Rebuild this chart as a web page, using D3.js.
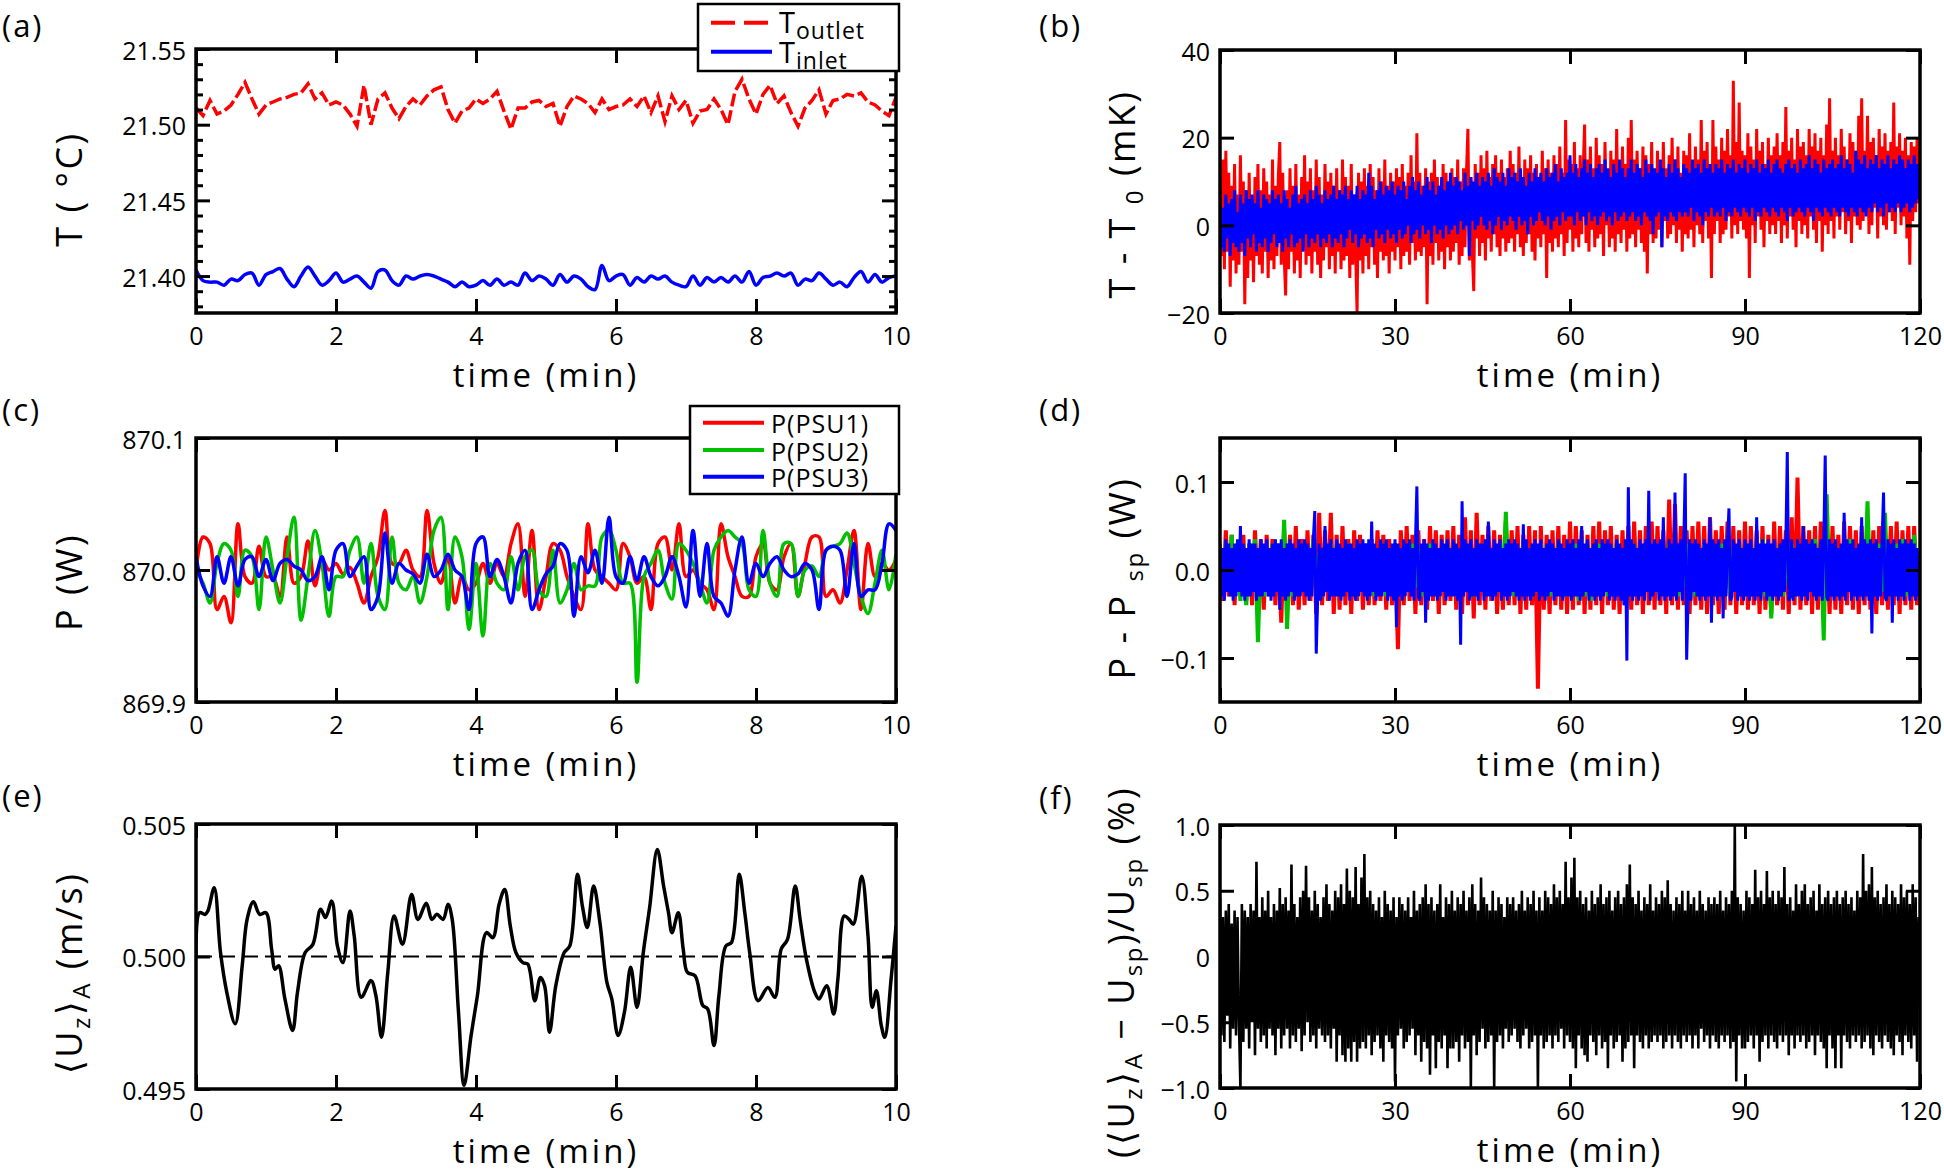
<!DOCTYPE html>
<html>
<head>
<meta charset="utf-8">
<script src="https://cdn.jsdelivr.net/npm/d3@7"></script>
<style>
body{margin:0;background:#fff}
svg text{font-family:"Open Sans","DejaVu Sans",sans-serif;fill:#000}
.tick text{font-size:25px}
.tick line{stroke:#000;stroke-width:3}
.plabel{font-size:31px;letter-spacing:2px}
.xtitle{font-size:33px;letter-spacing:3px}
.ytitle{letter-spacing:2.5px}
.legtext{letter-spacing:1px}
</style>
</head>
<body>
<svg id="fig" width="1944" height="1174"></svg>
<script>
// sample spacing (min)
var shortStep = 0.1, longStep = 0.5, denseStep = 0.25;

// (a) outlet / inlet temperature, degC, every 0.1 min
var tOutlet = [
21.511,21.506,21.516,21.507,21.509,21.513,21.520,21.528,21.517,21.507,
21.513,21.515,21.517,21.518,21.520,21.521,21.527,21.517,21.521,21.513,
21.515,21.513,21.507,21.499,21.526,21.500,21.517,21.521,21.511,21.504,
21.512,21.517,21.513,21.519,21.523,21.525,21.510,21.501,21.509,21.511,
21.517,21.514,21.517,21.522,21.509,21.497,21.511,21.511,21.515,21.516,
21.512,21.514,21.499,21.512,21.519,21.517,21.514,21.508,21.517,21.510,
21.512,21.513,21.517,21.512,21.519,21.508,21.519,21.502,21.519,21.510,
21.516,21.501,21.509,21.510,21.517,21.510,21.500,21.522,21.530,21.517,
21.507,21.520,21.526,21.514,21.519,21.508,21.499,21.511,21.516,21.523,
21.507,21.516,21.517,21.520,21.519,21.521,21.515,21.513,21.509,21.506,
21.518];
var tInlet = [
21.404,21.397,21.396,21.396,21.394,21.398,21.397,21.401,21.402,21.394,
21.401,21.403,21.405,21.398,21.393,21.400,21.406,21.400,21.394,21.397,
21.402,21.396,21.398,21.400,21.396,21.392,21.403,21.404,21.397,21.394,
21.400,21.398,21.400,21.401,21.400,21.398,21.396,21.393,21.396,21.393,
21.394,21.397,21.394,21.398,21.394,21.396,21.394,21.402,21.397,21.400,
21.398,21.394,21.401,21.396,21.400,21.398,21.393,21.391,21.407,21.397,
21.400,21.401,21.394,21.399,21.396,21.400,21.398,21.400,21.396,21.394,
21.393,21.400,21.394,21.399,21.396,21.399,21.396,21.400,21.396,21.403,
21.394,21.399,21.400,21.402,21.400,21.402,21.394,21.398,21.397,21.402,
21.398,21.394,21.396,21.393,21.399,21.403,21.396,21.401,21.396,21.399,
21.400];

// (b) T - T0, mK, every 0.25 min
var bOutlet = [
3,-7,15,-10,17,-6,12,-14,9,-8,14,-11,7,-9,16,-6,10,-18,8,-12,
12,-8,6,-13,11,-7,14,-9,8,-11,13,-6,10,-12,7,-8,15,-10,9,-7,
11,19,-9,12,-7,-16,8,-10,13,-6,9,-11,14,-8,7,-12,11,-5,16,-9,
10,-7,13,-11,8,-6,15,-9,11,-12,7,-8,14,-5,10,-10,12,-7,9,-11,
13,-6,8,-10,15,-8,11,-7,9,-12,14,-9,7,-6,-20,12,-8,10,-11,13,
-7,9,-10,14,-5,11,-9,8,-12,13,-6,10,-8,15,-7,9,-11,12,-6,10,
-8,13,-5,11,-10,14,-7,9,-6,12,-9,16,-4,10,-8,21,-6,12,-7,9,
-5,13,-18,10,-7,12,-9,15,-4,11,-8,9,-6,14,-10,12,-5,10,-8,13,
-6,11,-4,15,-9,10,-7,13,-5,12,22,-8,11,-6,-15,14,-3,12,-7,16,
-4,13,-8,17,-3,11,-6,14,-2,16,-5,12,-7,15,-3,11,-6,13,-4,17,
-3,14,-6,12,-2,18,-5,11,-7,15,-4,13,-2,16,-6,12,-8,14,-3,11,
-5,17,-2,13,-12,15,-4,12,-6,16,-3,14,-5,18,-2,12,-7,24,-4,15,
-1,14,-6,19,-3,13,-5,16,-2,12,23,-4,15,-6,18,-1,13,-5,20,-3,
16,-2,14,-7,19,0,12,-5,17,-3,15,-6,22,-2,13,-4,18,-1,14,-6,
20,-3,24,-2,15,-5,17,-1,13,-4,18,-6,16,-11,14,-2,19,-4,12,-3,
17,-1,14,-5,19,1,13,-3,16,-2,20,0,15,-4,18,-1,12,-6,17,-2,
16,-3,21,-1,14,-5,18,0,15,-2,24,-4,17,1,19,-3,13,-12,24,-2,
18,1,15,-4,20,-2,17,-1,22,2,16,-3,33,0,19,-2,28,1,17,-1,
16,-3,21,-12,18,0,15,-4,22,2,17,-1,19,-5,14,1,20,-2,16,0,
18,-2,21,1,16,-4,19,0,27,-3,17,2,20,-1,15,-5,22,1,18,-2,
19,0,16,-3,22,2,18,-1,21,-4,17,1,20,-6,16,0,23,-2,29,1,
17,-3,20,2,16,-1,22,3,18,-2,15,1,21,-4,19,2,17,0,25,-1,
29,1,17,3,25,-2,19,0,20,4,16,-3,22,2,18,0,21,-1,17,3,
19,1,28,-2,18,4,21,0,17,2,20,-3,16,-9,19,1,18,3,20,5,
12];
var bInlet = [
6,-5,4,-6,7,-3,5,-7,6,-4,8,-5,3,-6,7,-4,5,-7,8,-3,
6,-5,7,-2,5,-6,8,-4,4,-5,7,-3,6,-6,5,-4,8,-2,6,-5,
7,-4,5,-6,8,-3,6,-5,4,-2,7,-5,9,-4,5,-3,6,-6,7,-2,
5,-5,8,-3,6,-4,9,-2,7,-5,5,-3,8,-4,6,-2,7,-5,9,-3,
6,-4,8,-2,7,-5,9,-3,6,-1,8,-4,7,-2,9,-5,6,-3,8,-2,
7,-4,12,-3,9,-5,6,-1,8,-3,10,-2,7,-4,9,-1,8,-3,10,-2,
7,-4,9,-1,8,-3,10,-2,6,0,9,-4,11,-2,8,-1,10,-3,7,0,
9,-2,11,-1,8,-4,10,0,7,-2,9,-1,11,-3,8,0,10,-2,12,-1,
9,0,11,-2,10,1,8,-1,12,0,9,-7,11,1,10,-1,12,0,9,2,
11,0,10,-1,12,1,9,-2,13,0,11,2,10,-1,12,1,9,0,13,2,
11,1,12,-1,10,2,13,0,11,1,9,-2,12,2,10,0,13,1,11,3,
12,1,10,0,13,2,11,-1,12,1,14,2,10,0,13,3,11,1,12,2,
16,2,12,0,14,3,11,1,13,2,15,0,12,3,14,1,11,2,13,0,
14,2,12,3,15,1,13,2,11,0,14,3,12,1,15,2,13,3,11,1,
13,2,15,3,12,1,14,2,13,0,11,3,15,2,12,1,14,-2,13,2,
12,3,15,-5,13,2,11,1,14,3,12,2,15,1,13,3,11,2,14,3,
13,2,12,4,15,1,13,3,14,2,12,0,15,3,13,2,14,4,12,2,
14,3,13,2,15,4,12,1,14,3,13,2,15,4,12,3,14,2,13,4,
15,3,12,2,14,4,13,1,15,3,12,2,14,4,13,3,15,2,12,4,
14,3,15,2,13,4,12,3,14,1,15,4,13,2,14,3,12,4,15,3,
13,2,14,4,16,3,13,1,15,4,14,3,12,2,15,4,13,3,14,2,
15,4,13,3,14,2,16,4,13,3,15,2,14,4,12,3,17,2,15,4,
14,3,16,2,13,4,15,3,14,5,16,3,13,4,15,2,14,5,16,3,
13,4,15,3,14,5,16,3,15,4,13,5,15,3,14,4,16,5,14,6,
10];

// (c) PSU power, W, every 0.1 min
var psu1 = [
870.000,870.025,870.020,869.970,869.980,869.960,870.035,869.995,869.990,870.018,
869.995,869.995,869.980,870.025,869.990,869.995,870.022,869.988,870.008,870.000,
870.005,869.997,870.002,869.990,869.975,869.995,870.010,870.045,870.005,870.005,
870.015,870.000,869.995,870.045,870.005,869.990,870.010,869.975,869.995,869.985,
869.990,870.005,869.990,870.005,869.995,870.020,870.035,869.980,870.030,869.970,
869.995,870.020,870.015,869.995,869.980,869.970,870.035,870.000,869.995,869.990,
869.985,870.020,870.010,869.990,869.995,869.970,870.020,870.025,870.000,870.035,
869.995,870.000,869.990,869.985,869.970,870.035,870.010,869.995,869.980,869.980,
870.010,870.020,869.990,869.985,870.010,870.020,869.980,870.005,870.025,870.025,
869.980,869.985,869.975,870.000,870.030,869.970,870.020,869.995,870.005,870.000,
870.008];
var psu2 = [
870.000,869.990,869.975,870.005,870.020,870.015,869.980,870.015,870.010,869.970,
870.025,870.000,869.975,870.010,870.040,869.962,869.995,870.030,870.005,869.965,
869.995,869.995,870.015,870.025,869.990,870.020,869.980,869.970,870.025,869.990,
869.985,869.995,869.975,869.995,870.030,870.040,869.970,870.025,870.010,869.955,
870.005,869.950,870.005,869.990,869.985,870.010,869.985,870.010,870.015,869.985,
869.980,870.015,869.975,869.985,870.005,869.985,869.988,869.988,870.025,870.030,
870.015,869.990,869.990,869.915,869.995,870.005,870.015,869.990,869.978,870.020,
870.015,870.005,869.990,869.975,870.015,870.025,870.030,870.025,870.020,869.985,
869.980,870.030,869.990,869.980,870.020,870.020,869.980,870.000,870.003,869.995,
870.015,870.018,870.020,870.028,870.005,869.980,869.967,869.990,870.015,869.985,
870.012];
var psu3 = [
870.010,869.988,869.980,870.010,869.990,870.010,869.988,870.008,870.010,869.995,
870.008,869.992,870.005,870.008,870.003,870.000,869.992,869.995,870.010,869.985,
870.015,870.020,869.995,870.003,870.010,869.970,869.980,870.028,869.990,870.005,
870.000,869.997,869.990,870.012,869.995,870.000,870.012,870.000,869.995,869.970,
870.020,870.025,869.995,870.008,869.995,869.975,870.005,870.015,869.970,869.985,
869.997,870.003,870.020,870.015,869.965,870.010,869.998,870.015,869.990,870.040,
869.995,869.990,870.010,869.992,870.010,869.995,869.988,869.995,870.010,869.995,
869.972,870.030,869.980,870.020,869.980,869.975,869.965,870.000,870.025,869.990,
870.005,869.995,870.005,870.010,870.000,869.995,869.997,870.005,870.000,869.970,
870.015,870.018,870.015,869.980,870.020,869.980,869.985,869.985,870.005,870.035,
870.030];

// (d) P - Psp, W; PSU1 and PSU2 every 0.5 min, PSU3 every 0.25 min
var dPsu1 = [
.02,-.035,.045,-.03,.04,-.04,.03,-.025,.04,-.035,.03,-.04,.045,-.03,.035,-.045,.04,-.03,.035,-.04,
.03,-.06,.045,-.035,.04,-.04,.05,-.045,.035,-.04,.045,-.035,.04,-.05,.065,-.04,.045,-.035,.065,-.05,
.04,-.045,.05,-.04,.035,-.05,.045,-.035,.04,-.045,.03,-.04,.035,-.04,.045,-.035,.04,-.045,.035,-.04,
.03,-.09,.045,-.04,.05,-.035,.04,-.05,.045,-.04,.035,-.045,.05,-.035,.045,-.05,.04,-.04,.045,-.035,
.05,-.045,.04,-.05,.06,-.04,.045,-.055,.065,-.04,.04,-.045,.05,-.035,.045,-.05,.04,-.045,.055,-.04,
.045,-.04,.05,-.05,.04,-.045,.05,-.04,.045,-.135,.05,-.045,.04,-.05,.045,-.04,.05,-.045,.04,-.05,
.055,-.045,.05,-.04,.045,-.05,.04,-.045,.05,-.04,.055,-.05,.045,-.04,.05,-.045,.04,-.05,.045,-.04,
.05,-.045,.055,-.04,.045,-.05,.05,-.04,.055,-.045,.05,-.04,.045,-.05,.08,-.04,.075,-.045,.05,-.04,
.045,-.05,.05,-.04,.055,-.045,.05,-.05,.06,-.04,.045,-.05,.05,-.045,.055,-.04,.05,-.05,.045,-.04,
.055,-.045,.05,-.04,.045,-.05,.05,-.045,.04,-.05,.055,-.04,.05,-.045,.045,-.05,.06,-.04,.105,-.045,
.05,-.04,.045,-.05,.05,-.045,.055,-.04,.045,-.05,.05,-.045,.04,-.05,.055,-.04,.05,-.045,.045,-.05,
.05,-.04,.055,-.045,.045,-.05,.05,-.04,.045,-.045,.05,-.04,.055,-.05,.045,-.04,.05,-.045,.05,-.04,
0];
var dPsu2 = [
.025,-.02,.03,-.025,.04,-.03,.025,-.035,.02,-.04,.03,-.025,.035,-.082,.02,-.03,.025,-.02,.03,-.025,
.03,-.025,.057,-.067,.025,-.03,.02,-.025,.03,-.02,.025,-.03,.035,-.025,.02,-.03,.025,-.02,.03,-.025,
.025,-.03,.02,-.025,.03,-.02,.025,-.03,.02,-.025,.03,-.02,.025,-.03,.02,-.025,.03,-.03,.025,-.02,
.03,-.025,.025,-.03,.02,-.025,.03,-.02,.025,-.03,.02,-.025,.03,-.02,.025,-.03,.02,-.025,.03,-.02,
.025,-.03,.02,-.025,.03,-.02,.025,-.03,.02,-.025,.03,-.02,.025,-.03,.02,-.025,.03,-.02,.066,-.025,
.025,-.03,.02,-.025,.03,-.02,.025,-.03,.02,-.025,.03,-.02,.025,-.03,.02,-.025,.03,-.02,.025,-.03,
.02,-.025,.03,-.035,.035,-.03,.03,-.035,.025,-.02,.03,-.025,.02,-.03,.025,-.02,.03,-.025,.02,-.03,
.025,-.02,.03,-.025,.02,-.03,.025,-.02,.03,-.025,.02,-.03,.025,-.02,.03,-.025,.02,-.03,.025,-.02,
.03,-.025,.02,-.03,.025,-.02,.03,-.025,.02,-.03,.025,-.02,.03,-.025,.02,-.03,.025,-.02,.03,-.025,
.02,-.03,.025,-.02,.03,-.025,.035,-.03,.025,-.055,.03,-.025,.02,-.03,.025,-.02,.03,-.025,.02,-.03,
.025,-.02,.03,-.025,.035,-.03,.025,-.08,.086,-.025,.02,-.03,.025,-.02,.03,-.025,.035,-.03,.025,-.02,
.03,-.025,.078,-.03,.025,-.02,.03,-.025,.065,-.03,.025,-.02,.03,-.025,.035,-.03,.025,-.02,.04,-.025,
.01];
var dPsu3 = [
.03,-.03,.025,-.035,.035,-.025,.03,-.03,.025,-.035,.03,-.03,.035,-.025,.05,-.03,.03,-.035,.025,-.03,
.035,-.03,.03,-.025,.03,-.035,.025,-.03,.035,-.03,.03,-.025,.035,-.03,.025,-.035,.03,-.03,.035,-.025,
.03,-.045,.035,-.03,.025,-.035,.03,-.03,.035,-.025,.03,-.035,.025,-.03,.035,-.03,.03,-.025,.035,-.03,
.03,-.035,.025,-.03,.035,.067,-.095,-.03,.03,-.035,.025,-.03,.05,-.025,.03,-.035,.035,-.03,.025,-.03,
.035,-.03,.03,-.035,.025,-.03,.035,-.025,.03,-.035,.03,-.03,.025,-.035,.035,-.03,.03,-.025,.035,-.03,
.03,-.035,.035,-.03,.055,-.025,.03,-.035,.025,-.03,.035,-.03,.03,-.025,.035,-.035,.025,-.03,.03,-.035,
.035,-.065,.03,-.03,.025,-.035,.035,-.03,.03,-.025,.035,-.03,.025,-.035,.03,.095,-.03,-.035,.03,-.025,
.035,-.06,.03,-.035,.025,-.03,.035,-.03,.03,-.035,.025,-.03,.035,-.025,.03,-.035,.035,-.03,.025,-.03,
.035,-.03,.03,-.035,.025,-.085,.078,-.03,.035,-.025,.03,-.035,.035,-.03,.025,-.03,.035,-.035,.03,-.025,
.03,-.035,.035,-.03,.055,-.03,.025,-.035,.035,-.03,.03,-.025,.035,-.035,.025,-.03,.03,-.035,.035,-.03,
.03,-.025,.035,-.03,.03,-.035,.025,-.03,.052,-.035,.035,-.03,.025,-.035,.03,-.03,.035,-.025,.03,-.035,
.035,-.03,.025,-.035,.03,-.03,.035,-.025,.03,-.035,.025,-.03,.035,-.03,.03,-.035,.025,-.03,.035,-.03,
.03,-.035,.035,-.03,.025,-.03,.035,-.035,.05,-.03,.03,-.025,.035,-.035,.025,-.03,.03,-.035,.035,-.03,
.025,-.035,.035,-.03,.03,-.025,.035,-.035,.03,-.03,.025,-.035,.035,-.03,.03,-.035,.025,-.04,.035,-.103,
.094,-.03,.035,-.035,.03,-.03,.025,-.035,.035,-.03,.03,-.035,.035,-.025,.09,-.035,.03,-.03,.035,-.025,
.03,-.035,.035,-.03,.06,-.035,.025,-.03,.035,-.035,.03,-.03,.088,-.035,.03,-.025,.035,-.035,.03,.11,
-.102,-.03,.035,-.035,.03,-.025,.035,-.03,.03,-.035,.025,-.03,.035,-.035,.03,-.03,.06,-.06,.035,-.03,
.03,-.035,.035,-.03,.025,-.055,.035,-.03,.03,.07,-.035,-.03,.035,-.025,.03,-.035,.035,-.03,.025,-.035,
.035,-.03,.03,-.035,.035,-.03,.025,-.035,.06,-.03,.03,-.035,.035,-.025,.03,-.035,.035,-.03,.03,-.035,
.035,-.03,.025,-.035,.03,-.03,.035,-.025,.03,.134,-.035,-.03,.035,-.035,.025,-.03,.035,-.03,.03,-.035,
.05,-.03,.035,-.035,.03,-.025,.035,-.03,.03,-.035,.025,-.03,.035,-.035,.03,.13,-.03,-.035,.035,-.03,
.03,-.035,.035,-.03,.025,-.035,.03,-.03,.065,-.035,.035,-.025,.03,-.035,.035,-.03,.025,-.035,.03,-.03,
.06,-.035,.035,-.03,.03,-.035,.035,-.072,.03,-.03,.035,-.035,.025,-.03,.035,.088,-.03,-.035,.035,-.03,
.03,-.06,.035,-.03,.025,-.035,.035,-.03,.03,-.035,.035,-.025,.03,-.035,.035,-.03,.03,-.035,.025,-.03,
0];

// (e) area-averaged velocity, m/s
var eTime = [
0,0.05,0.13,0.17,0.26,0.35,0.44,0.56,0.66,0.73,
0.82,0.91,1.0,1.08,1.13,1.18,1.27,1.38,1.45,1.56,
1.67,1.78,1.85,1.94,2.02,2.10,2.20,2.26,2.36,2.50,
2.57,2.65,2.74,2.83,2.95,3.08,3.17,3.29,3.37,3.44,
3.53,3.60,3.66,3.75,3.83,3.93,4.02,4.15,4.24,4.33,
4.41,4.49,4.57,4.67,4.74,4.84,4.92,4.98,5.05,5.14,
5.26,5.34,5.45,5.52,5.59,5.68,5.77,5.87,5.94,6.03,
6.12,6.21,6.30,6.39,6.48,6.59,6.68,6.75,6.80,6.89,
6.96,7.02,7.13,7.24,7.31,7.40,7.47,7.57,7.65,7.76,
7.84,7.91,8.03,8.17,8.27,8.36,8.45,8.56,8.63,8.72,
8.84,8.90,9.01,9.11,9.17,9.26,9.33,9.39,9.51,9.60,
9.66,9.72,9.79,9.84,9.93,10];
var eVel = [
0.50003,0.50165,0.50159,0.50172,0.50259,0.50015,0.49865,0.49746,0.49965,0.50140,
0.50207,0.50159,0.50165,0.50028,0.49952,0.49965,0.49840,0.49721,0.49865,0.50015,
0.50046,0.50178,0.50147,0.50209,0.50040,0.49977,0.50172,0.50078,0.49846,0.49909,
0.49852,0.49695,0.49940,0.50153,0.50046,0.50234,0.50140,0.50201,0.50140,0.50159,
0.50140,0.50197,0.50140,0.49789,0.49514,0.49702,0.49852,0.50090,0.50071,0.50197,
0.50253,0.50115,0.50015,0.49977,0.49971,0.49833,0.49921,0.49890,0.49714,0.49890,
0.50015,0.50040,0.50310,0.50190,0.50109,0.50266,0.50128,0.49902,0.49840,0.49702,
0.49789,0.49959,0.49808,0.50015,0.50184,0.50404,0.50266,0.50165,0.50090,0.50165,
0.50028,0.49940,0.49927,0.49815,0.49802,0.49664,0.49852,0.50040,0.50053,0.50310,
0.50165,0.50015,0.49833,0.49883,0.49846,0.50028,0.50065,0.50266,0.50140,0.49990,
0.49865,0.49840,0.49890,0.49783,0.49915,0.50153,0.50140,0.50122,0.50303,0.50078,
0.49808,0.49871,0.49739,0.49695,0.49915,0.50115];
var eSetpoint = 0.500;

// (f) relative velocity deviation, %, every 0.25 min
var fDev = [
.45,-.6,.3,-.65,.35,-.45,.4,-.7,.25,-.55,.35,-.6,.3,-.5,-1.0,.4,-.65,.35,-.55,.3,
-.7,.4,-.5,.35,-.75,.72,-.55,.3,-.65,.45,-.6,.35,-.7,.5,-.55,.3,-.6,.4,-.75,.35,
-.55,.52,-.7,.4,-.6,.45,-.55,.35,-.7,.7,-.6,.4,-.65,.3,-.55,.45,-.72,.5,-.6,.69,
-.5,.45,-.65,.35,-.6,.5,-.7,.4,-.55,.3,-.6,.45,-.65,.55,-.6,.4,-.7,.35,-.55,.5,
-.8,.45,-.6,.55,-.75,.4,-.8,.67,-.7,.5,-.8,.45,-.65,.68,-.8,.4,-.7,.6,-.65,.78,
-.7,.45,-.6,.5,-.75,.4,-.65,.35,-.6,.45,-.7,.3,-.8,.5,-.6,.4,-.65,.35,-.7,.45,
-.95,.3,-.6,.45,-.55,.4,-.7,.35,-.65,.45,-.6,.3,-.55,.5,-.75,.35,-.6,.4,-.8,.45,
-.65,.55,-.7,.4,-.9,.45,-.6,.35,-.85,.4,-.65,.55,-.7,.3,-.6,.45,-.85,.4,-.7,.5,
-.7,.35,-.65,.45,-.8,.4,-.6,.5,-.7,.35,-.65,.45,-1.0,.55,-.6,.4,-.75,.35,-.65,.6,
-.55,.45,-.7,.4,-.65,.35,-.6,.5,-1.0,.35,-.65,.45,-.6,.4,-.7,.3,-.55,.45,-.65,.4,
-.6,.45,-.55,.35,-.65,.4,-.7,.5,-.6,.35,-.55,.45,-.7,.4,-.65,.5,-.6,.35,-1.0,.45,
-.6,.35,-.7,.5,-.65,.45,-.6,.4,-.7,.55,-.6,.45,-.65,.5,-.55,.4,-.7,.72,-.6,.45,
-.65,.6,-.7,.75,-.85,.45,-.6,.5,-.7,.4,-.75,.45,-.8,.35,-.6,.5,-.65,.4,-.75,.45,
-.6,.55,-.7,.4,-.65,.45,-.85,.5,-.6,.35,-.7,.45,-.65,.5,-.6,.4,-.8,.45,-.7,.55,
-.65,.7,-.6,.45,-.85,.4,-.6,.5,-.65,.35,-.7,.45,-.6,.4,-.7,.55,-.65,.35,-.6,.45,
-.65,.4,-.6,.5,-.7,.45,-.65,.58,-.6,.4,-.7,.35,-.6,.45,-.65,.4,-.7,.5,-.6,.35,
-.65,.5,-.6,.4,-.7,.45,-.6,.35,-.7,.5,-.55,.4,-.65,.35,-.6,.45,-.7,.4,-.6,.45,
-.65,.4,-.7,.5,-.6,.35,-.65,.45,-.6,.4,-.7,.5,-.65,1.0,-.95,.45,-.6,.4,-.7,.35,
-.7,.5,-.65,.45,-.6,.4,-.7,.66,-.6,.45,-.8,.5,-.65,.4,-.6,.65,-.7,.45,-.6,.5,
-.65,.4,-.7,.5,-.6,.45,-.65,.68,-.6,.4,-.75,.45,-.6,.35,-.7,.55,-.6,.4,-.65,.5,
-.6,.55,-.7,.4,-.65,.45,-.6,.5,-.75,.35,-.6,.55,-.65,.4,-.7,.45,-.85,.5,-.6,.4,
-.7,.45,-.85,.5,-.6,.4,-.85,.45,-.6,.5,-.65,.4,-.7,.45,-.6,.35,-.65,.5,-.6,.45,
-.7,.78,-.65,.5,-.6,.55,-.7,.68,-.75,.45,-.6,.5,-.65,.4,-.7,.45,-.6,.55,-.65,.4,
-.7,.5,-.75,.45,-.6,.4,-.65,.55,-.75,.45,-.6,.5,-.65,.4,-.7,.55,-.6,.45,-.8,.3,
-.1];

// ticks
var shortTicks = [0,2,4,6,8,10], shortTickLabels = ['0','2','4','6','8','10'];
var longTicks = [0,30,60,90,120], longTickLabels = ['0','30','60','90','120'];
var aTicks = [21.40,21.45,21.50,21.55], aTickLabels = ['21.40','21.45','21.50','21.55'];
var aMinor = [21.38,21.39,21.41,21.42,21.43,21.44,21.46,21.47,21.48,21.49,21.51,21.52,21.53,21.54];
var bTicks = [-20,0,20,40], bTickLabels = ['\u221220','0','20','40'];
var cTicks = [869.9,870.0,870.1], cTickLabels = ['869.9','870.0','870.1'];
var dTicks = [-0.1,0,0.1], dTickLabels = ['\u22120.1','0.0','0.1'];
var eTicks = [0.495,0.500,0.505], eTickLabels = ['0.495','0.500','0.505'];
var fTicks = [-1,-0.5,0,0.5,1], fTickLabels = ['\u22121.0','\u22120.5','0','0.5','1.0'];

var svg = d3.select('#fig');
var red = '#ff0000', blue = '#0000ff', green = '#00c000';

function rich(sel, parts, big, small, shift){
    var cur = 0;
    parts.forEach(function(p){
        var t = sel.append('tspan').text(p[0]).attr('font-size', p[1] ? small : big);
        var target = p[1] ? shift : 0;
        if (target !== cur) { t.attr('dy', target - cur); cur = target; }
    });
}

function labelFor(vals, labels){
    return function(d){ return labels[vals.indexOf(d)]; };
}

// ticks only, no labels
function bare(sel){ sel.selectAll('text').remove(); }

function panel(p){
    var g = svg.append('g').attr('transform','translate(' + p.x + ',' + p.y + ')');
    var sx = d3.scaleLinear().domain(p.xd).range([0,p.w]);
    var sy = d3.scaleLinear().domain(p.yd).range([p.h,0]);

    g.append('clipPath').attr('id','clip-' + p.key)
        .append('rect').attr('width',p.w).attr('height',p.h);
    var plot = g.append('g').attr('clip-path','url(#clip-' + p.key + ')');

    if (p.ref !== undefined){
        plot.append('line')
            .attr('x1',0).attr('x2',p.w)
            .attr('y1',sy(p.ref)).attr('y2',sy(p.ref))
            .attr('stroke','#000').attr('stroke-width',2).attr('stroke-dasharray','16,7');
    }

    p.series.forEach(function(s){
        var line = d3.line()
            .x(function(d,i){ return sx(s.t ? s.t[i] : i * s.dt); })
            .y(function(d){ return sy(d); });
        if (s.smooth) line.curve(d3.curveCatmullRom.alpha(0.5));
        plot.append('path').datum(s.v)
            .attr('d',line)
            .attr('fill','none')
            .attr('stroke',s.color)
            .attr('stroke-width',s.width)
            .attr('stroke-linejoin',s.smooth ? 'round' : 'miter')
            .attr('stroke-dasharray',s.dash || null);
    });

    var xt = p.long ? longTicks : shortTicks, xl = p.long ? longTickLabels : shortTickLabels;

    g.append('g').attr('transform','translate(0,' + p.h + ')')
        .call(d3.axisBottom(sx).tickValues(xt).tickFormat(labelFor(xt,xl)).tickSize(-14).tickPadding(14));
    g.append('g')
        .call(d3.axisTop(sx).tickValues(xt).tickSize(-14)).call(bare);
    var left = g.append('g')
        .call(d3.axisLeft(sy).tickValues(p.yt).tickFormat(labelFor(p.yt,p.yl)).tickSize(-14).tickPadding(10));
    left.selectAll('text').attr('dy','0.4em');
    g.append('g').attr('transform','translate(' + p.w + ',0)')
        .call(d3.axisRight(sy).tickValues(p.yt).tickSize(-14)).call(bare);
    if (p.minor){
        g.append('g').call(d3.axisLeft(sy).tickValues(p.minor).tickSize(-7)).call(bare);
        g.append('g').attr('transform','translate(' + p.w + ',0)')
            .call(d3.axisRight(sy).tickValues(p.minor).tickSize(-7)).call(bare);
    }
    g.selectAll('.domain').remove();

    g.append('rect').attr('width',p.w).attr('height',p.h)
        .attr('fill','none').attr('stroke','#000').attr('stroke-width',3.5);

    svg.append('text').attr('class','plabel').attr('x',p.lx).attr('y',p.ly).text(p.label);
    svg.append('text').attr('class','xtitle')
        .attr('x',p.x + p.w / 2).attr('y',p.y + p.h + 74)
        .attr('text-anchor','middle').text('time (min)');
    var yt = svg.append('text').attr('class','ytitle')
        .attr('text-anchor','middle')
        .attr('transform','translate(' + p.tx + ',' + p.ty + ') rotate(-90)');
    rich(yt, p.title, 36, 24, 8);
}

panel({key:'a', x:196, y:49, w:700, h:264, xd:[0,10], yd:[21.3756,21.55],
    yt:aTicks, yl:aTickLabels, minor:aMinor,
    series:[
        {v:tOutlet, dt:shortStep, color:red, width:3.5, dash:'13,4'},
        {v:tInlet, dt:shortStep, color:blue, width:3.5, smooth:true}
    ],
    label:'(a)', lx:2, ly:37, tx:82, ty:189, title:[['T  (  \u00b0C)',0]]});

panel({key:'b', x:1220, y:50, w:700, h:263, xd:[0,120], yd:[-20,40], long:true,
    yt:bTicks, yl:bTickLabels,
    series:[
        {v:bOutlet, dt:denseStep, color:red, width:3},
        {v:bInlet, dt:denseStep, color:blue, width:3}
    ],
    label:'(b)', lx:1039, ly:37, tx:1135, ty:194, title:[['T - T ',0],['0',1],['  (mK)',0]]});

panel({key:'c', x:196, y:438, w:700, h:264, xd:[0,10], yd:[869.9,870.1],
    yt:cTicks, yl:cTickLabels,
    series:[
        {v:psu1, dt:shortStep, color:red, width:3.5, smooth:true},
        {v:psu2, dt:shortStep, color:green, width:3.5, smooth:true},
        {v:psu3, dt:shortStep, color:blue, width:3.5, smooth:true}
    ],
    label:'(c)', lx:2, ly:421, tx:82, ty:582, title:[['P  (W)',0]]});

panel({key:'d', x:1220, y:438, w:700, h:264, xd:[0,120], yd:[-0.15,0.15], long:true,
    yt:dTicks, yl:dTickLabels,
    series:[
        {v:dPsu1, dt:longStep, color:red, width:4},
        {v:dPsu2, dt:longStep, color:green, width:4},
        {v:dPsu3, dt:denseStep, color:blue, width:3}
    ],
    label:'(d)', lx:1039, ly:421, tx:1135, ty:578, title:[['P - P ',0],['sp',1],['  (W)',0]]});

panel({key:'e', x:196, y:824, w:700, h:265, xd:[0,10], yd:[0.495,0.505], ref:eSetpoint,
    yt:eTicks, yl:eTickLabels,
    series:[
        {v:eVel, t:eTime, color:'#000', width:3.5, smooth:true}
    ],
    label:'(e)', lx:2, ly:807, tx:82, ty:973,
    title:[['\u27e8U',0],['z',1],['\u27e9',0],['A',1],['   (m/s)',0]]});

panel({key:'f', x:1220, y:825, w:700, h:263, xd:[0,120], yd:[-1,1], long:true,
    yt:fTicks, yl:fTickLabels,
    series:[
        {v:fDev, dt:denseStep, color:'#000', width:2.6}
    ],
    label:'(f)', lx:1039, ly:809, tx:1134, ty:972,
    title:[['(\u27e8U',0],['z',1],['\u27e9',0],['A',1],[' \u2212  U',0],['sp',1],[')/U',0],['sp',1],['  (%)',0]]});

// legends
function legend(x, y, w, h, rows, big, small){
    var lg = svg.append('g').attr('transform','translate(' + x + ',' + y + ')');
    lg.append('rect').attr('width',w).attr('height',h)
        .attr('fill','#fff').attr('stroke','#000').attr('stroke-width',2.5);
    rows.forEach(function(r){
        lg.append('line').attr('x1',13).attr('x2',74).attr('y1',r.y).attr('y2',r.y)
            .attr('stroke',r.color).attr('stroke-width',4).attr('stroke-dasharray',r.dash || null);
        var t = lg.append('text').attr('class','legtext').attr('x',81).attr('y',r.base);
        rich(t, r.parts, big, small, 6);
    });
}
legend(698, 4, 201, 67, [
    {y:18.7, base:29, color:red, dash:'24,9', parts:[['T',0],['outlet',1]]},
    {y:47.7, base:59, color:blue, parts:[['T',0],['inlet',1]]}
], 29, 23);
legend(690, 406, 209, 88, [
    {y:16.7, base:27, color:red, parts:[['P(PSU1)',0]]},
    {y:44, base:55, color:green, parts:[['P(PSU2)',0]]},
    {y:70.7, base:81, color:blue, parts:[['P(PSU3)',0]]}
], 25, 25);
</script>
</body>
</html>
